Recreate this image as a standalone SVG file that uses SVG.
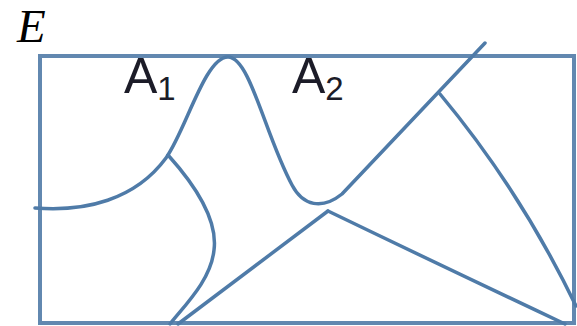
<svg xmlns="http://www.w3.org/2000/svg" width="577" height="326" viewBox="0 0 577 326">
<style>
.ln{fill:none;stroke:#4f7ba8;stroke-width:3.5;stroke-linecap:round;stroke-linejoin:round}
.fr{fill:none;stroke:#6288b0;stroke-width:4}
.lb{font-family:"Liberation Sans",Arial,sans-serif;fill:#1c1c28}
</style>
<rect width="577" height="326" fill="#ffffff"/>
<g id="frame"><rect class="fr" x="40" y="56" width="534" height="267"/></g>
<g id="label-E"><text x="17" y="42" font-family="Liberation Serif,Times New Roman,serif" font-style="italic" font-size="47" fill="#000">E</text></g>
<g id="label-A1"><text class="lb" x="124" y="93" font-size="50">A<tspan font-size="33" dy="7">1</tspan></text></g>
<g id="label-A2"><text class="lb" x="292" y="93" font-size="50">A<tspan font-size="33" dy="7">2</tspan></text></g>
<g id="curves">
<path class="ln" d="M35 208 C85 212 135 200 166 158 C186 130 205 57 228 57 C250 57 265 135 292 185 C303 206 322 210 342 194 L485 43"/>
<path class="ln" d="M168 155 C195 185 218 220 214 250 C211 280 185 305 170 324"/>
<path class="ln" d="M178 324 L328 211"/>
<path class="ln" d="M328 211 Q440 265 565 324"/>
<path class="ln" d="M440 94 Q520 190 576 306"/>
</g>
</svg>
